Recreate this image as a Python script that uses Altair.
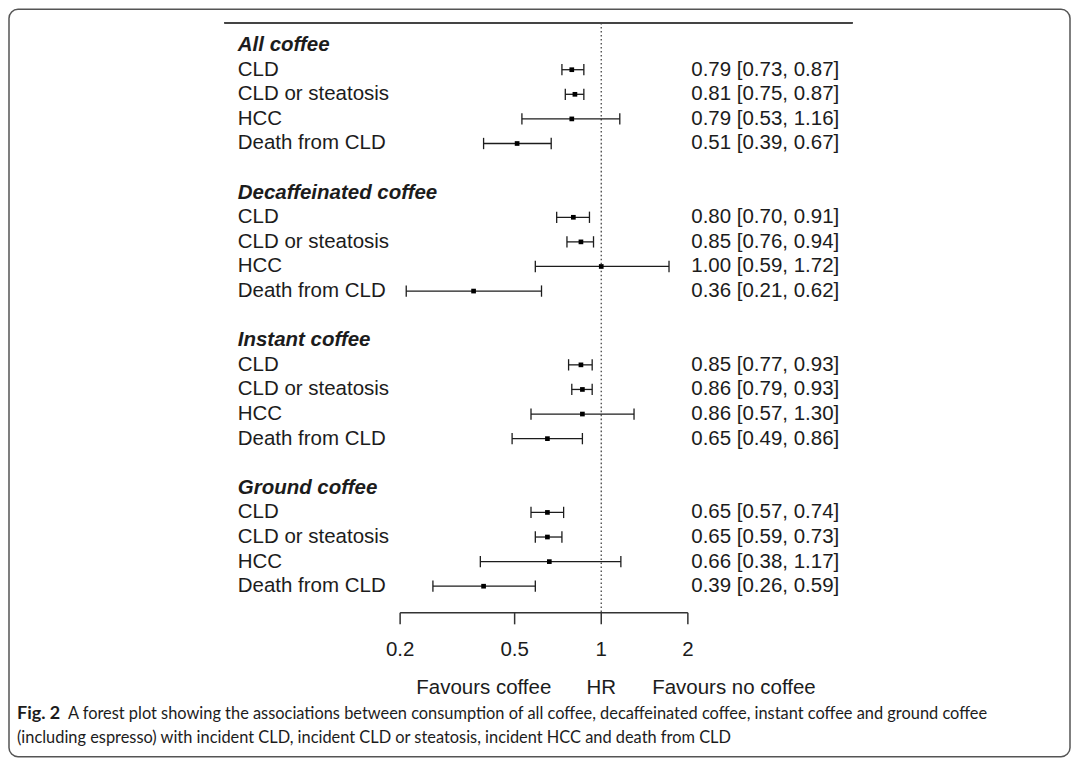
import altair as alt
import pandas as pd

# ---- data ----
groups = ["All coffee", "Decaffeinated coffee", "Instant coffee", "Ground coffee"]
outcomes = ["CLD", "CLD or steatosis", "HCC", "Death from CLD"]
hr = [0.79, 0.81, 0.79, 0.51,
      0.80, 0.85, 1.00, 0.36,
      0.85, 0.86, 0.86, 0.65,
      0.65, 0.65, 0.66, 0.39]
lo = [0.73, 0.75, 0.53, 0.39,
      0.70, 0.76, 0.59, 0.21,
      0.77, 0.79, 0.57, 0.49,
      0.57, 0.59, 0.38, 0.26]
hi = [0.87, 0.87, 1.16, 0.67,
      0.91, 0.94, 1.72, 0.62,
      0.93, 0.93, 1.30, 0.86,
      0.74, 0.73, 1.17, 0.59]
tick_values = [0.2, 0.5, 1, 2]
tick_labels = ["0.2", "0.5", "1", "2"]
caption_bold = "Fig. 2"
caption_line1 = ("A forest plot showing the associations between consumption of all coffee, "
                 "decaffeinated coffee, instant coffee and ground coffee")
caption_line2 = ("(including espresso) with incident CLD, incident CLD or steatosis, "
                 "incident HCC and death from CLD")

# ---- tables ----
items = []
headers = []
for gi, g in enumerate(groups):
    headers.append({"row": 6 * gi, "label": g})
    for oi, o in enumerate(outcomes):
        k = gi * 4 + oi
        items.append({
            "row": 6 * gi + 1 + oi,
            "label": o,
            "hr": hr[k], "lo": lo[k], "hi": hi[k],
            "txt": f"{hr[k]:.2f} [{lo[k]:.2f}, {hi[k]:.2f}]",
        })
items = pd.DataFrame(items)
headers = pd.DataFrame(headers)
ticks = pd.DataFrame({"v": tick_values, "lab": tick_labels})

FONT = "Liberation Sans"
FS = 20.5
INK = "#1c1c1c"
AXIS_ROW = 23.08

xs = alt.Scale(type="log", domain=[0.2, 2], range=[391.5, 679.5], nice=False)
ys = alt.Scale(type="linear", domain=[0, 22], range=[35.8, 577.4], nice=False, zero=False)

def X(field, **kw):
    return alt.X(field, type="quantitative", scale=xs, axis=None, **kw)

def Y(field, **kw):
    return alt.Y(field, type="quantitative", scale=ys, axis=None, **kw)

base = alt.Chart(items)

top_line = alt.Chart(items).mark_rule(color="#444", strokeWidth=1.3).encode(
    x=alt.value(216), x2=alt.value(844), y=alt.value(13.5))

ref_line = alt.Chart(pd.DataFrame({"x": [1], "y1": [-0.9], "y2": [AXIS_ROW]})).mark_rule(
    color="#444", strokeWidth=1.3, strokeDash=[1.6, 2.4]).encode(
    x=X("x"), y=Y("y1"), y2="y2")

ci = base.mark_rule(color=INK, strokeWidth=1.3).encode(x=X("lo"), x2="hi", y=Y("row"))

caps = base.transform_fold(["lo", "hi"], as_=["end", "val"]).transform_calculate(
    ya="datum.row - 0.23", yb="datum.row + 0.23"
).mark_rule(color=INK, strokeWidth=1.3).encode(x=X("val"), y=Y("ya"), y2="yb")

pts = base.mark_square(color="black", size=22, opacity=1).encode(x=X("hr"), y=Y("row"))

left_txt = base.mark_text(align="left", baseline="middle", font=FONT, fontSize=FS,
                          color=INK).encode(x=alt.value(229), y=Y("row"), text="label")

head_txt = alt.Chart(headers).mark_text(align="left", baseline="middle", font=FONT,
                                        fontSize=FS, fontWeight="bold", fontStyle="italic",
                                        color=INK).encode(
    x=alt.value(229), y=Y("row"), text="label")

right_txt = base.mark_text(align="right", baseline="middle", font=FONT, fontSize=FS,
                           color=INK).encode(x=alt.value(831), y=Y("row"), text="txt")

axis_line = alt.Chart(pd.DataFrame({"a": [0.2], "b": [2], "r": [AXIS_ROW]})).mark_rule(
    color="#333", strokeWidth=1.5).encode(x=X("a"), x2="b", y=Y("r"))

axis_ticks = alt.Chart(ticks).transform_calculate(
    ya=f"{AXIS_ROW}", yb=f"{AXIS_ROW + 0.47}"
).mark_rule(color="#333", strokeWidth=1.5).encode(x=X("v"), y=Y("ya"), y2="yb")

axis_labels = alt.Chart(ticks).transform_calculate(yr="24.6").mark_text(
    align="center", baseline="middle", font=FONT, fontSize=FS, color=INK).encode(
    x=X("v"), y=Y("yr"), text="lab")

bottom = alt.Chart(pd.DataFrame({
    "v": [1, 1, 1],
    "t": ["Favours coffee", "HR", "Favours no coffee"],
    "al": ["right", "center", "left"],
    "r": [26.14, 26.14, 26.14],
}))
fav_left = bottom.transform_filter("datum.al == 'right'").mark_text(
    align="right", baseline="middle", font=FONT, fontSize=FS, color=INK, dx=-50).encode(
    x=X("v"), y=Y("r"), text="t")
fav_mid = bottom.transform_filter("datum.al == 'center'").mark_text(
    align="center", baseline="middle", font=FONT, fontSize=FS, color=INK).encode(
    x=X("v"), y=Y("r"), text="t")
fav_right = bottom.transform_filter("datum.al == 'left'").mark_text(
    align="left", baseline="middle", font=FONT, fontSize=FS, color=INK, dx=51).encode(
    x=X("v"), y=Y("r"), text="t")

CAP_FONT = "Lato"
CAP_FS = 16.4
cap_df = pd.DataFrame({"t": [caption_bold, caption_line1, caption_line2]})
cap_bold = alt.Chart(cap_df.iloc[[0]]).mark_text(
    align="left", baseline="middle", font=CAP_FONT, fontSize=18, fontWeight="bold",
    color=INK).encode(x=alt.value(8), y=alt.value(705), text="t")
cap_l1 = alt.Chart(cap_df.iloc[[1]]).mark_text(
    align="left", baseline="middle", font=CAP_FONT, fontSize=CAP_FS, color=INK).encode(
    x=alt.value(59), y=alt.value(705), text="t")
cap_l2 = alt.Chart(cap_df.iloc[[2]]).mark_text(
    align="left", baseline="middle", font=CAP_FONT, fontSize=CAP_FS, color=INK).encode(
    x=alt.value(8), y=alt.value(729), text="t")

chart = alt.layer(
    top_line, ref_line, ci, caps, pts, left_txt, head_txt, right_txt,
    axis_line, axis_ticks, axis_labels, fav_left, fav_mid, fav_right,
    cap_bold, cap_l1, cap_l2,
).properties(
    width=1062, height=748,
    autosize=alt.AutoSizeParams(type="none"),
    padding={"left": 1, "top": 1, "right": 2, "bottom": 2},
    background="white",
).configure_view(
    stroke="#555", strokeWidth=1.5, cornerRadius=9
)

chart.save("out.html", embed_options={"renderer": "svg", "actions": False})
